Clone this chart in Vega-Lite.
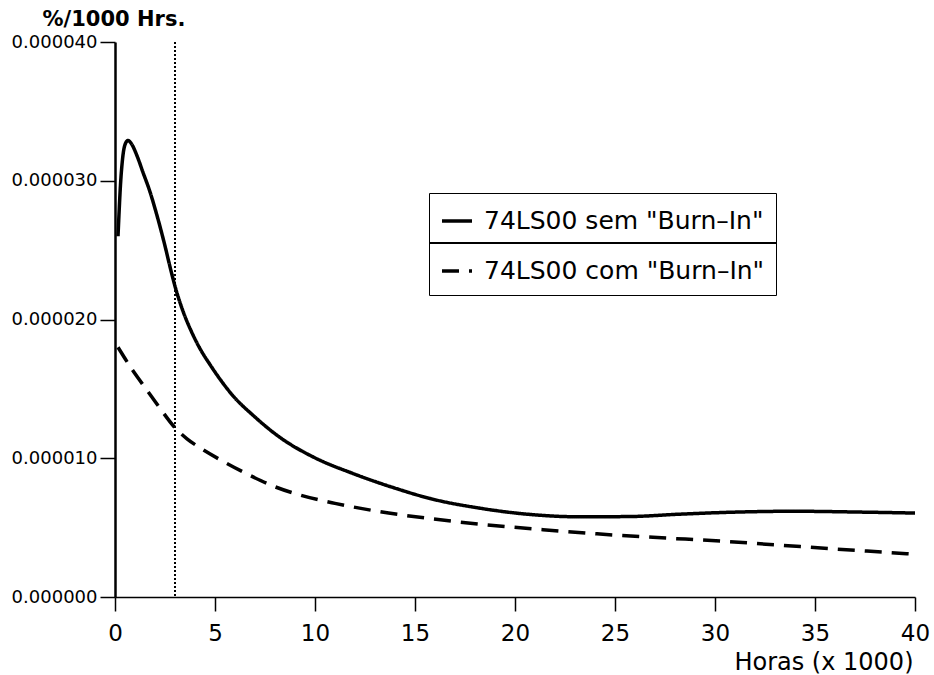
{
  "$schema": "https://vega.github.io/schema/vega-lite/v6.json",
  "width": 800,
  "height": 555,
  "autosize": {"type": "none"},
  "padding": {"left": 115, "top": 42, "right": 19, "bottom": 78},
  "background": "white",
  "config": {"view": {"stroke": null}, "font": "DejaVu Sans"},
  "data": {
    "values": [
      {"serie": "74LS00 sem \"Burn–In\"", "x": 0.15, "y": 2.60e-5},
      {"serie": "74LS00 sem \"Burn–In\"", "x": 0.2, "y": 2.76e-5},
      {"serie": "74LS00 sem \"Burn–In\"", "x": 0.27, "y": 2.96e-5},
      {"serie": "74LS00 sem \"Burn–In\"", "x": 0.38, "y": 3.16e-5},
      {"serie": "74LS00 sem \"Burn–In\"", "x": 0.5, "y": 3.26e-5},
      {"serie": "74LS00 sem \"Burn–In\"", "x": 0.65, "y": 3.29e-5},
      {"serie": "74LS00 sem \"Burn–In\"", "x": 0.85, "y": 3.26e-5},
      {"serie": "74LS00 sem \"Burn–In\"", "x": 1.1, "y": 3.18e-5},
      {"serie": "74LS00 sem \"Burn–In\"", "x": 1.4, "y": 3.06e-5},
      {"serie": "74LS00 sem \"Burn–In\"", "x": 1.75, "y": 2.92e-5},
      {"serie": "74LS00 sem \"Burn–In\"", "x": 2.0, "y": 2.80e-5},
      {"serie": "74LS00 sem \"Burn–In\"", "x": 2.25, "y": 2.67e-5},
      {"serie": "74LS00 sem \"Burn–In\"", "x": 2.5, "y": 2.53e-5},
      {"serie": "74LS00 sem \"Burn–In\"", "x": 2.75, "y": 2.38e-5},
      {"serie": "74LS00 sem \"Burn–In\"", "x": 3.0, "y": 2.24e-5},
      {"serie": "74LS00 sem \"Burn–In\"", "x": 3.4, "y": 2.06e-5},
      {"serie": "74LS00 sem \"Burn–In\"", "x": 3.8, "y": 1.92e-5},
      {"serie": "74LS00 sem \"Burn–In\"", "x": 4.25, "y": 1.79e-5},
      {"serie": "74LS00 sem \"Burn–In\"", "x": 4.75, "y": 1.675e-5},
      {"serie": "74LS00 sem \"Burn–In\"", "x": 5.25, "y": 1.57e-5},
      {"serie": "74LS00 sem \"Burn–In\"", "x": 5.9, "y": 1.45e-5},
      {"serie": "74LS00 sem \"Burn–In\"", "x": 6.9, "y": 1.31e-5},
      {"serie": "74LS00 sem \"Burn–In\"", "x": 8.25, "y": 1.15e-5},
      {"serie": "74LS00 sem \"Burn–In\"", "x": 9.9, "y": 1.01e-5},
      {"serie": "74LS00 sem \"Burn–In\"", "x": 11.9, "y": 8.9e-6},
      {"serie": "74LS00 sem \"Burn–In\"", "x": 13.25, "y": 8.2e-6},
      {"serie": "74LS00 sem \"Burn–In\"", "x": 14.1, "y": 7.8e-6},
      {"serie": "74LS00 sem \"Burn–In\"", "x": 15.75, "y": 7.1e-6},
      {"serie": "74LS00 sem \"Burn–In\"", "x": 18.25, "y": 6.4e-6},
      {"serie": "74LS00 sem \"Burn–In\"", "x": 20.75, "y": 5.95e-6},
      {"serie": "74LS00 sem \"Burn–In\"", "x": 23.25, "y": 5.78e-6},
      {"serie": "74LS00 sem \"Burn–In\"", "x": 25.75, "y": 5.8e-6},
      {"serie": "74LS00 sem \"Burn–In\"", "x": 28.25, "y": 5.97e-6},
      {"serie": "74LS00 sem \"Burn–In\"", "x": 30.6, "y": 6.1e-6},
      {"serie": "74LS00 sem \"Burn–In\"", "x": 33.9, "y": 6.18e-6},
      {"serie": "74LS00 sem \"Burn–In\"", "x": 37.25, "y": 6.12e-6},
      {"serie": "74LS00 sem \"Burn–In\"", "x": 40, "y": 6.05e-6},
      {"serie": "74LS00 com \"Burn–In\"", "x": 0.15, "y": 1.80e-5},
      {"serie": "74LS00 com \"Burn–In\"", "x": 0.9, "y": 1.63e-5},
      {"serie": "74LS00 com \"Burn–In\"", "x": 1.6, "y": 1.49e-5},
      {"serie": "74LS00 com \"Burn–In\"", "x": 2.25, "y": 1.36e-5},
      {"serie": "74LS00 com \"Burn–In\"", "x": 3.0, "y": 1.22e-5},
      {"serie": "74LS00 com \"Burn–In\"", "x": 3.6, "y": 1.14e-5},
      {"serie": "74LS00 com \"Burn–In\"", "x": 4.25, "y": 1.075e-5},
      {"serie": "74LS00 com \"Burn–In\"", "x": 5.5, "y": 9.7e-6},
      {"serie": "74LS00 com \"Burn–In\"", "x": 6.7, "y": 8.8e-6},
      {"serie": "74LS00 com \"Burn–In\"", "x": 7.9, "y": 8.0e-6},
      {"serie": "74LS00 com \"Burn–In\"", "x": 9.25, "y": 7.35e-6},
      {"serie": "74LS00 com \"Burn–In\"", "x": 11, "y": 6.75e-6},
      {"serie": "74LS00 com \"Burn–In\"", "x": 13.25, "y": 6.15e-6},
      {"serie": "74LS00 com \"Burn–In\"", "x": 15.75, "y": 5.65e-6},
      {"serie": "74LS00 com \"Burn–In\"", "x": 18.6, "y": 5.2e-6},
      {"serie": "74LS00 com \"Burn–In\"", "x": 21.4, "y": 4.85e-6},
      {"serie": "74LS00 com \"Burn–In\"", "x": 24.1, "y": 4.55e-6},
      {"serie": "74LS00 com \"Burn–In\"", "x": 26.9, "y": 4.3e-6},
      {"serie": "74LS00 com \"Burn–In\"", "x": 30.6, "y": 4.0e-6},
      {"serie": "74LS00 com \"Burn–In\"", "x": 33.4, "y": 3.72e-6},
      {"serie": "74LS00 com \"Burn–In\"", "x": 36.1, "y": 3.45e-6},
      {"serie": "74LS00 com \"Burn–In\"", "x": 38.75, "y": 3.2e-6},
      {"serie": "74LS00 com \"Burn–In\"", "x": 40, "y": 3.08e-6}
    ]
  },
  "layer": [
    {
      "mark": {"type": "rule", "color": "black", "strokeWidth": 1.5, "strokeDash": [1.5, 2.5]},
      "encoding": {"x": {"datum": 3, "type": "quantitative"}}
    },
    {
      "mark": {"type": "line", "color": "black", "strokeWidth": 3.5, "interpolate": "monotone"},
      "encoding": {
        "x": {
          "field": "x", "type": "quantitative",
          "scale": {"domain": [0, 40], "nice": false},
          "axis": {
            "values": [0, 5, 10, 15, 20, 25, 30, 35, 40],
            "grid": false,
            "domainColor": "black", "domainWidth": 1.5,
            "tickColor": "black", "tickWidth": 1.5, "tickSize": 14,
            "labelFont": "DejaVu Sans", "labelFontSize": 23, "labelColor": "black",
            "labelPadding": 11, "labelFlush": false, "labelOverlap": false,
            "title": "Horas (x 1000)",
            "titleFont": "DejaVu Sans", "titleFontSize": 24, "titleFontWeight": "normal", "titleColor": "black",
            "titleX": 798, "titleY": 72, "titleAlign": "right", "titleBaseline": "alphabetic", "titleAnchor": "end"
          }
        },
        "y": {
          "field": "y", "type": "quantitative",
          "scale": {"domain": [0, 0.00004], "nice": false},
          "axis": {
            "values": [0, 0.00001, 0.00002, 0.00003, 0.00004],
            "format": ".6f",
            "grid": false,
            "domainColor": "black", "domainWidth": 2.5,
            "tickColor": "black", "tickWidth": 1.5, "tickSize": 15,
            "labelFont": "DejaVu Sans", "labelFontSize": 18, "labelColor": "black",
            "labelPadding": 3, "labelFlush": false, "labelOverlap": false,
            "title": "%/1000 Hrs.",
            "titleFont": "DejaVu Sans", "titleFontSize": 21, "titleFontWeight": "bold", "titleColor": "black",
            "titleAngle": 0, "titleX": -73, "titleY": -17, "titleAlign": "left", "titleBaseline": "alphabetic"
          }
        },
        "strokeDash": {
          "field": "serie", "type": "nominal",
          "scale": {
            "domain": ["74LS00 sem \"Burn–In\"", "74LS00 com \"Burn–In\""],
            "range": [[1, 0], [17, 10]]
          },
          "legend": {
            "title": null,
            "orient": "none", "legendX": 314, "legendY": 151,
            "direction": "vertical",
            "symbolType": "stroke", "symbolSize": 900, "symbolStrokeWidth": 3.5, "symbolStrokeColor": "black",
            "labelFont": "DejaVu Sans", "labelFontSize": 25, "labelColor": "black", "labelOffset": 10, "labelLimit": 400,
            "rowPadding": 20, "padding": 11,
            "strokeColor": "black"
          }
        }
      }
    },
    {
      "mark": {"type": "rule", "color": "black", "strokeWidth": 1.5},
      "encoding": {
        "x": {"datum": 15.7, "type": "quantitative"},
        "x2": {"datum": 33.03},
        "y": {"datum": 0.0000255, "type": "quantitative"}
      }
    }
  ]
}
